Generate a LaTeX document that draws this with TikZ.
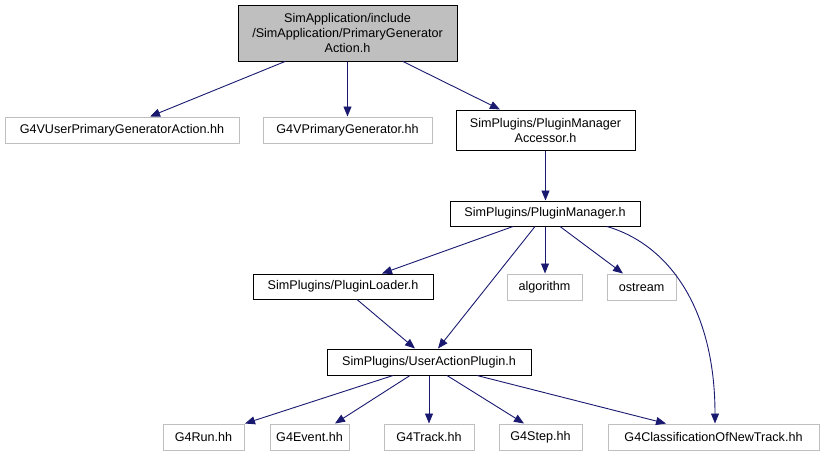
\documentclass[tikz,border=0pt]{standalone}
\usepackage{fontspec}
\setmainfont{Liberation Sans}
\usetikzlibrary{arrows.meta}
\definecolor{edgeblue}{HTML}{191970}
\definecolor{boxgray}{HTML}{BFBFBF}
\begin{document}
\begin{tikzpicture}[x=1pt,y=-1pt,
  font=\fontsize{12.6}{15}\selectfont,
  nb/.style={draw=black,line width=1pt,inner sep=0pt,minimum height=25pt,align=center},
  gb/.style={draw=boxgray,line width=1pt,inner sep=0pt,minimum height=26pt,align=center},
  dep/.style={draw=edgeblue,line width=0.9pt,-{Triangle[length=10pt,width=8pt]}}]
\useasboundingbox (0,0) rectangle (824,456);
\node[nb,fill=boxgray,minimum width=219pt,minimum height=56pt] (top) at (347.5,33)
  {SimApplication/include\\/SimApplication/PrimaryGenerator\\Action.h};
\node[gb,minimum width=234pt] (g4vuser) at (122,130) {G4VUserPrimaryGeneratorAction.hh};
\node[gb,minimum width=169pt] (g4vprim) at (347.5,130) {G4VPrimaryGenerator.hh};
\node[nb,minimum width=179pt,minimum height=40pt] (accessor) at (545.5,130) {SimPlugins/PluginManager\\Accessor.h};
\node[nb,minimum width=190pt] (manager) at (545,213.5) {SimPlugins/PluginManager.h};
\node[nb,minimum width=180pt] (loader) at (343,286.5) {SimPlugins/PluginLoader.h};
\node[gb,minimum width=75pt] (algorithm) at (544.5,287) {algorithm};
\node[gb,minimum width=69pt] (ostream) at (641.5,287) {ostream};
\node[nb,minimum width=204pt,minimum height=26pt] (useraction) at (429,362) {SimPlugins/UserActionPlugin.h};
\node[gb,minimum width=81pt] (g4run) at (203.5,437) {G4Run.hh};
\node[gb,minimum width=79pt] (g4event) at (309.5,437) {G4Event.hh};
\node[gb,minimum width=90pt] (g4track) at (429,437) {G4Track.hh};
\node[gb,minimum width=83pt] (g4step) at (540.5,437) {G4Step.hh};
\node[gb,minimum width=211pt] (g4class) at (713.5,437) {G4ClassificationOfNewTrack.hh};

\draw[dep] ([xshift=-62.5pt]top.south) -- ([xshift=28pt]g4vuser.north);
\draw[dep] (top.south) -- (g4vprim.north);
\draw[dep] ([xshift=55.5pt]top.south) -- ([xshift=-45.5pt]accessor.north);
\draw[dep] (accessor.south) -- (accessor.south |- manager.north);
\draw[dep] ([xshift=-32pt]manager.south) -- ([xshift=39pt]loader.north);
\draw[dep] ([xshift=-10pt]manager.south) -- ([xshift=9pt]useraction.north);
\draw[dep] (manager.south) -- (manager.south |- algorithm.north);
\draw[dep] ([xshift=15pt]manager.south) -- ([xshift=-18.5pt]ostream.north);
\draw[dep] ([xshift=62pt]manager.south) .. controls (670,245) and (715,310) .. ([xshift=1.5pt]g4class.north);
\draw[dep] ([xshift=14pt]loader.south) -- ([xshift=-14pt]useraction.north);
\draw[dep] ([xshift=-36pt]useraction.south) -- ([xshift=41.5pt]g4run.north);
\draw[dep] ([xshift=-19pt]useraction.south) -- ([xshift=25.5pt]g4event.north);
\draw[dep] (useraction.south) -- (g4track.north);
\draw[dep] ([xshift=18pt]useraction.south) -- ([xshift=-16.5pt]g4step.north);
\draw[dep] ([xshift=48pt]useraction.south) -- ([xshift=-47.5pt]g4class.north);
\end{tikzpicture}
\end{document}
